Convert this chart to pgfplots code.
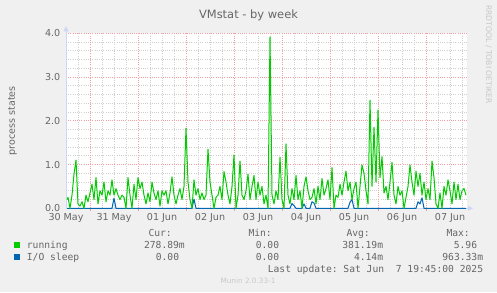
\documentclass[border=0pt]{standalone}
\usepackage{pgfplots}
\pgfplotsset{compat=1.18}
\usepackage{pgfplotstable}
\usepackage{fontspec}
\setmainfont{DejaVu Sans}
\setmonofont{DejaVu Sans Mono}
\usetikzlibrary{arrows.meta}
\definecolor{bgc}{HTML}{F0F0F0}
\definecolor{fontc}{HTML}{666666}
\definecolor{axisc}{HTML}{CFD6F8}
\definecolor{runc}{HTML}{00CC00}
\definecolor{ioc}{HTML}{0066B3}
\definecolor{mgrid}{HTML}{D0D0D0}
\definecolor{rgrid}{HTML}{F5A0A0}
\definecolor{wmc}{HTML}{C8C8C8}

\pgfplotstableread{
h run io
12.5 0.20 0
13 0.25 0
14 0.00 0
15 0.30 0
16 0.78 0
17 1.10 0
18 0.10 0
19 0.05 0
20 0.15 0
21 0.00 0
22 0.30 0
23 0.15 0
24 0.35 0
25 0.55 0
26 0.20 0
27 0.70 0
28 0.10 0
29 0.40 0
30 0.30 0
31 0.60 0
32 0.15 0
33 0.40 0
34 0.30 0
35 0.65 0
36 0.30 0.23
37 0.45 0
38 0.30 0
39 0.20 0
40 0.30 0
41 0.25 0
42 0.00 0
43 0.70 0
44 0.30 0
45 0.00 0
46 0.55 0
47 0.20 0
48 0.70 0
49 0.45 0
50 0.60 0
51 0.30 0
52 0.10 0
53 0.35 0
54 0.15 0
55 0.60 0
56 0.35 0
57 0.20 0
58 0.40 0
59 0.05 0
60 0.40 0
61 0.30 0
62 0.40 0
63 0.10 0
64 0.35 0
65 0.72 0
66 0.30 0
67 0.10 0
68 0.30 0
69 0.45 0
70 0.20 0
71 0.50 0
72 1.83 0
73 0.60 0
74 0.20 0
75 0.00 0
76 0.65 0.21
77 0.30 0
78 0.45 0
79 0.20 0
80 0.35 0
81 0.20 0
82 0.30 0
83 1.35 0
84 0.60 0
85 0.30 0
86 0.00 0
87 0.25 0
88 0.30 0
89 0.50 0
90 0.20 0
91 0.84 0
92 0.60 0
93 0.30 0
94 0.10 0
95 0.50 0
96 1.22 0
97 0.00 0
98 0.30 0
99 1.08 0
100 0.30 0
101 0.20 0
102 0.40 0
103 0.78 0
104 0.20 0
105 0.50 0
106 0.75 0
107 0.20 0
108 0.60 0
109 0.30 0
110 0.50 0
111 0.10 0
112 0.30 0
113 0.00 0
114 3.92 0
115 0.30 0
116 0.10 0
117 0.40 0
118 0.20 0
119 1.17 0
120 0.20 0
121 0.00 0
122 1.47 0
123 0.30 0
124 0.10 0
125 0.45 0.11
126 0.20 0.06
127 0.75 0
128 0.20 0
129 0.40 0
130 0.00 0
131 0.50 0.10
132 0.72 0
133 0.40 0
134 0.20 0
135 0.25 0.15
136 0.45 0.12
137 0.10 0
138 0.50 0
139 0.20 0
140 0.68 0
141 0.30 0
142 0.45 0
143 0.65 0
144 0.20 0
145 0.93 0
146 0.00 0
147 0.30 0
148 0.25 0
149 0.55 0
150 0.30 0
151 0.60 0
152 0.85 0
153 0.40 0
154 0.60 0.14
155 0.20 0.20
156 0.45 0
157 0.60 0
158 0.00 0
159 0.50 0
160 0.99 0
161 0.80 0
162 0.40 0
163 0.10 0
164 2.47 0
165 0.50 0
166 1.85 0
167 0.60 0
168 2.25 0
169 0.70 0
170 1.18 0
171 0.35 0
172 0.50 0
173 0.20 0
174 0.60 0
175 1.05 0
176 0.30 0
177 0.10 0
178 0.50 0
179 0.30 0
180 0.40 0
181 0.00 0
182 0.25 0
183 0.50 0
184 0.99 0
185 0.60 0
186 0.30 0
187 0.85 0
188 0.50 0.15
189 0.80 0.10
190 0.30 0.24
191 0.60 0
192 0.20 0
193 0.45 0
194 0.20 0
195 1.08 0
196 0.70 0
197 0.10 0
198 0.00 0
199 0.35 0
200 0.00 0
201 0.50 0
202 0.30 0
203 0.65 0
204 0.40 0
205 0.10 0
206 0.60 0
207 0.20 0
208 0.55 0
209 0.20 0
210 0.40 0
211 0.45 0
212 0.30 0
}\vmdata

\begin{document}
\begin{tikzpicture}[x=1bp,y=1bp]
\fill[bgc] (0,0) rectangle (497,292);
\begin{axis}[
  at={(66bp,83.7bp)}, anchor=south west,
  scale only axis, width=401bp, height=175bp,
  xmin=12, xmax=212.5, ymin=0, ymax=4,
  axis background/.style={fill=white},
  axis x line*=bottom, axis y line*=left,
  x axis line style={draw=axisc, line width=1bp, -{Triangle[length=5bp,width=5bp]}, shorten >=-6bp},
  y axis line style={draw=axisc, line width=1bp, -{Triangle[length=5bp,width=5bp]}, shorten >=-7bp},
  xtick={12,36,60,84,108,132,156,180,204},
  xticklabels={30 May,31 May,01 Jun,02 Jun,03 Jun,04 Jun,05 Jun,06 Jun,07 Jun},
  minor xtick={18,24,...,210},
  extra x ticks={24,48,72,96,120,144,168,192},
  extra x tick labels={},
  extra x tick style={xmajorgrids=true, major tick length=2.5bp, tick align=outside,
     tick style={draw=rgrid, line width=0.8bp}},
  ytick={0,1,2,3,4},
  yticklabels={0.0,1.0,2.0,3.0,4.0},
  minor ytick={0.2,0.4,0.6,0.8,1.2,1.4,1.6,1.8,2.2,2.4,2.6,2.8,3.2,3.4,3.6,3.8},
  xminorgrids=true, yminorgrids=true, ymajorgrids=true,
  minor grid style={draw=mgrid, line width=0.8bp, dash pattern=on 1bp off 1.2bp},
  major grid style={draw=rgrid, line width=0.8bp, dash pattern=on 1bp off 1.2bp},
  major tick length=0pt, minor tick length=0pt,
  tick label style={font=\fontsize{9.6}{11}\selectfont, text=fontc, inner sep=0pt},
  xticklabel style={anchor=north, yshift=-4.5bp},
  yticklabel style={anchor=east, xshift=-5.5bp},
  clip=false,
]
\addplot[ioc, line width=1bp, line join=round] table[x=h, y=io] {\vmdata};
\addplot[runc, line width=1bp, line join=round] table[x=h, y=run] {\vmdata};
\end{axis}
% title and labels
\node[anchor=base, inner sep=0pt, text=fontc, font=\fontsize{11.5}{13}\selectfont] at (248.5,273.7) {VMstat - by week};
\node[rotate=90, inner sep=0pt, text=fontc, font=\fontsize{9.6}{11}\selectfont] at (12.5,171.3) {process states};
\node[rotate=-90, anchor=west, inner sep=0pt, text=wmc, font=\fontsize{7.7}{8}\selectfont] at (488.5,287) {RRDTOOL / TOBI OETIKER};
% legend
\begin{scope}[every node/.style={inner sep=0pt, text=fontc, font=\ttfamily\fontsize{9.7}{11}\selectfont}]
\node[anchor=base east] at (172,55.3) {Cur:};
\node[anchor=base east] at (272,55.3) {Min:};
\node[anchor=base east] at (370,55.3) {Avg:};
\node[anchor=base east] at (470,55.3) {Max:};
\fill[runc] (14,44) rectangle (20,50);
\node[anchor=base west] at (26.7,43.3) {running};
\node[anchor=base east] at (185,43.3) {278.89m};
\node[anchor=base east] at (279.3,43.3) {0.00};
\node[anchor=base east] at (383.3,43.3) {381.19m};
\node[anchor=base east] at (477.3,43.3) {5.96};
\fill[ioc] (14,32) rectangle (20,38);
\node[anchor=base west] at (26.7,31.3) {I/O sleep};
\node[anchor=base east] at (179.3,31.3) {0.00};
\node[anchor=base east] at (279.3,31.3) {0.00};
\node[anchor=base east] at (383.3,31.3) {4.14m};
\node[anchor=base east] at (483.3,31.3) {963.33m};
\node[anchor=base east] at (483.3,19.3) {Last update:\ Sat Jun\ \ 7 19:45:00 2025};
\end{scope}
\node[anchor=base, inner sep=0pt, text=wmc, font=\fontsize{7.3}{8}\selectfont] at (248,9) {Munin 2.0.33-1};
\end{tikzpicture}
\end{document}
